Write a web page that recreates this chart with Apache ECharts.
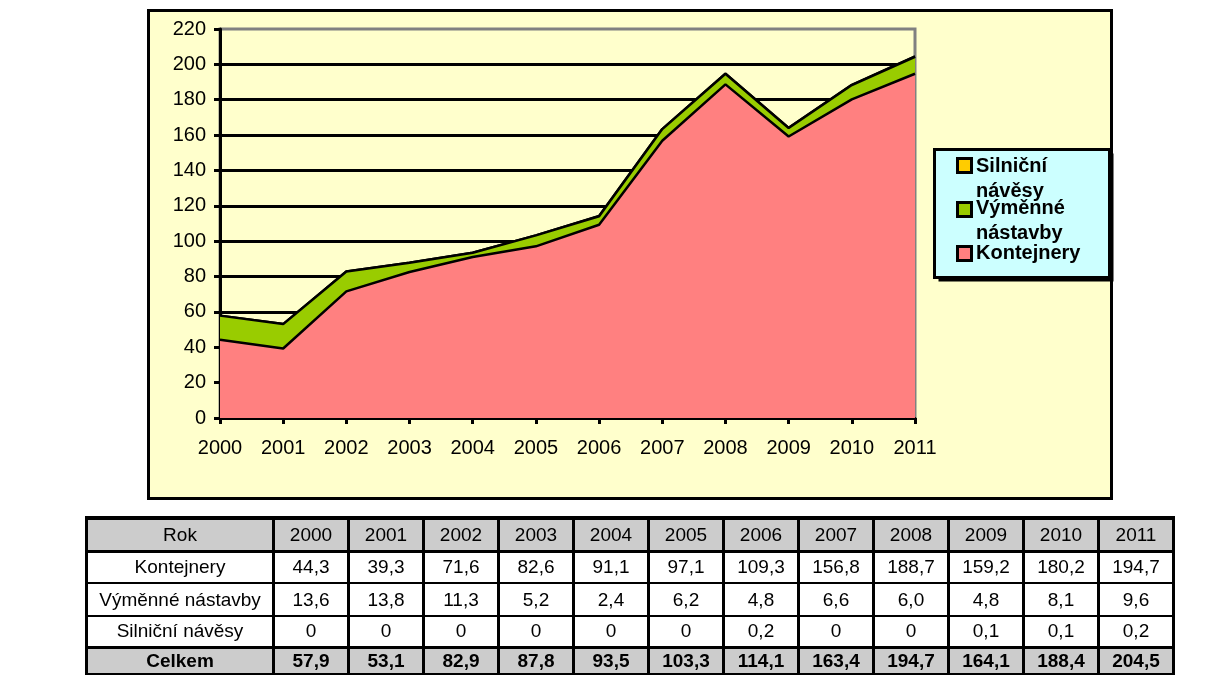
<!DOCTYPE html>
<html><head><meta charset="utf-8">
<script src="https://cdn.jsdelivr.net/npm/echarts@6/dist/echarts.min.js"></script>
<style>
body{margin:0;background:#fff;}
#wrap{position:relative;width:1221px;height:675px;overflow:hidden;}
#chart{position:absolute;left:0;top:0;width:1221px;height:675px;}
#tbl{position:absolute;left:85px;top:516px;width:1087px;border-collapse:collapse;table-layout:fixed;font-family:'Liberation Sans',Arial,sans-serif;font-size:19px;color:#000;}
#tbl td{border-left:3px solid #000;border-right:3px solid #000;border-top:2px solid #000;border-bottom:2px solid #000;text-align:center;padding:0;white-space:nowrap;overflow:hidden;background:#fff;}
#tbl tr.gray td{background:#CCCCCC;}
#tbl tr.hdr td{border-top:4px solid #000;border-bottom:3px solid #000;}
#tbl tr.tot td{border-top:3px solid #000;border-bottom:4px solid #000;font-weight:bold;}
</style>
</head><body>
<div id="wrap"><div id="chart"></div><table id="tbl"></table></div>
<script>
const years = ['2000','2001','2002','2003','2004','2005','2006','2007','2008','2009','2010','2011'];
const kontejnery = [44.3,39.3,71.6,82.6,91.1,97.1,109.3,156.8,188.7,159.2,180.2,194.7];
const vymenne = [13.6,13.8,11.3,5.2,2.4,6.2,4.8,6.6,6.0,4.8,8.1,9.6];
const silnicni = [0,0,0,0,0,0,0.2,0,0,0.1,0.1,0.2];
const celkem = [57.9,53.1,82.9,87.8,93.5,103.3,114.1,163.4,194.7,164.1,188.4,204.5];
const seriesNames = ['Kontejnery','Výměnné nástavby','Silniční návěsy'];
const legendLabels = ['Silniční\nnávěsy','Výměnné\nnástavby','Kontejnery'];
const colors = ['#FF8080','#99CC00','#FFCC00'];
const tableHeader = 'Rok';
const totalLabel = 'Celkem';

function fmt(v, zeroPlain){ if(zeroPlain && v===0) return '0'; return v.toFixed(1).replace('.',','); }

// table
const tbl = document.getElementById('tbl');
let html = '<colgroup><col style="width:187px">' + years.map(()=>'<col style="width:75px">').join('') + '</colgroup>';
html += '<tr class="gray hdr" style="height:33px"><td>'+tableHeader+'</td>' + years.map(y=>'<td>'+y+'</td>').join('') + '</tr>';
html += '<tr style="height:32px"><td>'+seriesNames[0]+'</td>' + kontejnery.map(v=>'<td>'+fmt(v)+'</td>').join('') + '</tr>';
html += '<tr style="height:33px"><td>'+seriesNames[1]+'</td>' + vymenne.map(v=>'<td>'+fmt(v)+'</td>').join('') + '</tr>';
html += '<tr style="height:31px"><td>'+seriesNames[2]+'</td>' + silnicni.map(v=>'<td>'+fmt(v,true)+'</td>').join('') + '</tr>';
html += '<tr class="gray tot" style="height:28px"><td>'+totalLabel+'</td>' + celkem.map(v=>'<td>'+fmt(v)+'</td>').join('') + '</tr>';
tbl.innerHTML = html;

const chart = echarts.init(document.getElementById('chart'), null, {renderer:'canvas'});
const FONT = 'Liberation Sans';

const legendGraphics = [
  {type:'rect', z:10, shape:{x:938.5,y:153.5,width:175,height:128}, style:{fill:'#000'}},
  {type:'rect', z:11, shape:{x:934.5,y:149.5,width:175,height:128}, style:{fill:'#CCFFFF',stroke:'#000',lineWidth:3}}
];
const iconY = [158, 202, 246];
const textTop = [153.5, 195.5, 240.5];
const legendColors = [colors[2], colors[1], colors[0]];
for (let i=0;i<3;i++){
  legendGraphics.push({type:'rect', z:12, shape:{x:957.5,y:iconY[i]+0.5,width:14,height:14}, style:{fill:legendColors[i],stroke:'#000',lineWidth:3}});
  legendGraphics.push({type:'text', z:12, x:976, y:textTop[i], style:{text:legendLabels[i], fill:'#000', font:'bold 20px "Liberation Sans"', lineHeight:25, verticalAlign:'top', align:'left'}});
}

const option = {
  animation:false,
  backgroundColor:'#ffffff',
  textStyle:{fontFamily:FONT},
  graphic:[
    {type:'rect', z:-10, shape:{x:148.5,y:10.5,width:963,height:488}, style:{fill:'#FFFFCC',stroke:'#000',lineWidth:3}}
  ].concat(legendGraphics),
  grid:{left:220, top:29, width:695, height:389, show:true, backgroundColor:'#FFFFCC', borderColor:'#808080', borderWidth:3},
  xAxis:{type:'category', data:years, boundaryGap:false,
    axisLine:{lineStyle:{color:'#000',width:3}},
    axisTick:{show:true,length:6,lineStyle:{color:'#000',width:3}},
    axisLabel:{color:'#000',fontSize:20,fontFamily:FONT,margin:20,interval:0},
    splitLine:{show:false}},
  yAxis:{type:'value', min:0, max:220, interval:20,
    axisLine:{show:true,lineStyle:{color:'#000',width:3}},
    axisTick:{show:true,length:6,lineStyle:{color:'#000',width:3}},
    axisLabel:{color:'#000',fontSize:20,fontFamily:FONT,margin:14},
    splitLine:{show:true,showMaxLine:false,lineStyle:{color:'#000',width:3}}},
  series:[
    {name:seriesNames[0], type:'line', stack:'total', z:4, data:kontejnery, symbol:'none',
      lineStyle:{color:'#000',width:2.5}, areaStyle:{color:colors[0],opacity:1}, itemStyle:{color:colors[0]}},
    {name:seriesNames[1], type:'line', stack:'total', z:3, data:vymenne, symbol:'none',
      lineStyle:{color:'#000',width:2.5}, areaStyle:{color:colors[1],opacity:1}, itemStyle:{color:colors[1]}},
    {name:seriesNames[2], type:'line', stack:'total', z:2, data:silnicni, symbol:'none',
      lineStyle:{color:'#000',width:2.5}, areaStyle:{color:colors[2],opacity:1}, itemStyle:{color:colors[2]}}
  ]
};
chart.setOption(option);
</script>
</body></html>
